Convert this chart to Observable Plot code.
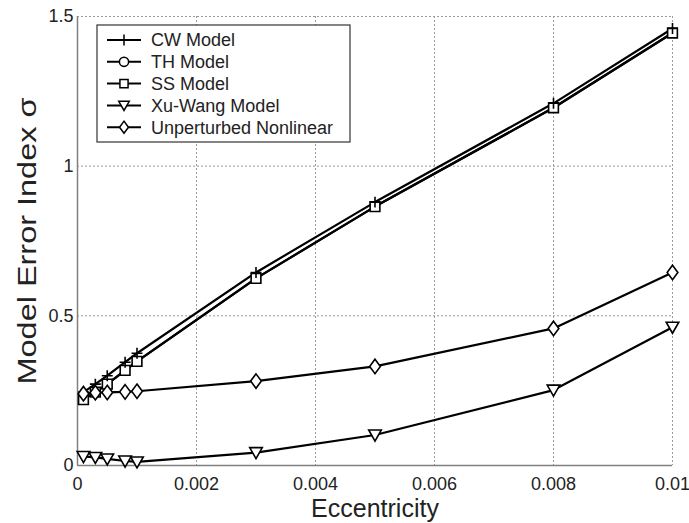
<!DOCTYPE html>
<html>
<head>
<meta charset="utf-8">
<script src="https://cdn.jsdelivr.net/npm/d3@7"></script>
<script src="https://cdn.jsdelivr.net/npm/@observablehq/plot@0.6"></script>
<style>
  html, body { margin: 0; padding: 0; background: white; }
  #chart { width: 689px; height: 523px; }
</style>
</head>
<body>
<div id="chart"></div>
<script>
// ---- data ----
const eccentricity = [0.0001, 0.0003, 0.0005, 0.0008, 0.001, 0.003, 0.005, 0.008, 0.01];
const seriesNames = ["CW Model", "TH Model", "SS Model", "Xu-Wang Model", "Unperturbed Nonlinear"];
const cwValues = [0.245, 0.272, 0.300, 0.345, 0.375, 0.645, 0.880, 1.210, 1.460];
const thValues = [0.220, 0.245, 0.272, 0.318, 0.348, 0.625, 0.865, 1.195, 1.445];
const ssValues = [0.220, 0.245, 0.272, 0.318, 0.348, 0.625, 0.865, 1.195, 1.445];
const xuWangValues = [0.030, 0.027, 0.022, 0.015, 0.012, 0.043, 0.102, 0.252, 0.462];
const unperturbedValues = [0.240, 0.243, 0.244, 0.246, 0.248, 0.282, 0.331, 0.458, 0.645];
const xTicks = [0, 0.002, 0.004, 0.006, 0.008, 0.01];
const yTicks = [0, 0.5, 1, 1.5];

// ---- build table ----
const valueLists = [cwValues, thValues, ssValues, xuWangValues, unperturbedValues];
const rows = [];
seriesNames.forEach((name, i) => {
  eccentricity.forEach((e, j) => rows.push({series: name, x: e, y: valueLists[i][j]}));
});
const bySeries = name => rows.filter(r => r.series === name);

// custom symbols
const triangleDown = {
  draw(context, size) {
    const s = Math.sqrt(size / 0.6);
    const h = s * Math.sqrt(3) / 2;
    context.moveTo(-s / 2, -h / 2.2);
    context.lineTo(s / 2, -h / 2.2);
    context.lineTo(0, h / 1.8);
    context.closePath();
  }
};
const diamondTall = {
  draw(context, size) {
    const r = Math.sqrt(size / 2.4);
    const w = r * 0.85, h = r * 1.15;
    context.moveTo(0, -h);
    context.lineTo(w, 0);
    context.lineTo(0, h);
    context.lineTo(-w, 0);
    context.closePath();
  }
};
const symbolFor = {
  "CW Model": d3.symbolPlus, "TH Model": d3.symbolCircle, "SS Model": d3.symbolSquare,
  "Xu-Wang Model": triangleDown, "Unperturbed Nonlinear": diamondTall
};
const markerR = {"CW Model": 3.6, "TH Model": 4.3, "SS Model": 5.5, "Xu-Wang Model": 5.5, "Unperturbed Nonlinear": 5.5};
const drawOrder = ["TH Model", "SS Model", "CW Model", "Xu-Wang Model", "Unperturbed Nonlinear"];

const fontFamily = "'Liberation Sans', Arial, Helvetica, sans-serif";

const marks = [
  Plot.gridX(xTicks, {stroke: "#9a9a9a", strokeOpacity: 1, strokeDasharray: "2,2"}),
  Plot.gridY(yTicks, {stroke: "#9a9a9a", strokeOpacity: 1, strokeDasharray: "2,2"}),
  Plot.ruleX([0], {stroke: "#808080", strokeWidth: 1.5}),
  Plot.ruleY([0], {stroke: "#808080", strokeWidth: 1.5}),
  Plot.axisX({ticks: xTicks, tickSize: 0, tickPadding: 12, tickFormat: d => String(+d.toFixed(4)), label: null, fontSize: 18}),
  Plot.axisY({ticks: yTicks, tickSize: 0, tickPadding: 4, tickFormat: d => String(d), label: null, fontSize: 18})
];
drawOrder.forEach(name => {
  marks.push(Plot.line(bySeries(name), {x: "x", y: "y", stroke: "black", strokeWidth: 2.2}));
});
drawOrder.forEach(name => {
  marks.push(Plot.dot(bySeries(name), {x: "x", y: "y", symbol: symbolFor[name], r: markerR[name],
    fill: "white", stroke: "black", strokeWidth: 1.6}));
});
marks.push(
  Plot.text(["Eccentricity"], {frameAnchor: "bottom", dy: 43, lineAnchor: "middle", fontSize: 25, fill: "#222"}),
  Plot.text(["Model Error Index σ"], {frameAnchor: "left", textAnchor: "middle", dx: -50, rotate: -90, fontSize: 25, fill: "#222", className: "ylabel"})
);

const chart = Plot.plot({
  width: 689,
  height: 523,
  marginLeft: 77,
  marginRight: 17,
  marginTop: 16,
  marginBottom: 58,
  style: {fontFamily, fontSize: "18px", background: "white", color: "#222"},
  x: {domain: [0, 0.01]},
  y: {domain: [0, 1.5]},
  marks
});

const svg = d3.select(chart);
// the reference figure is stretched vertically: elongate the rotated label
svg.selectAll(".ylabel text").attr("textLength", 287).attr("lengthAdjust", "spacingAndGlyphs");

// ---- legend inside the frame ----
const lg = svg.append("g").attr("font-family", fontFamily).attr("text-anchor", "start");
const box = {x: 97, y: 25, w: 253, h: 117};
lg.append("rect").attr("x", box.x).attr("y", box.y).attr("width", box.w).attr("height", box.h)
  .attr("fill", "white").attr("stroke", "#333").attr("stroke-width", 1.2);
seriesNames.forEach((name, i) => {
  const y = 40 + i * 21.8;
  lg.append("line").attr("x1", 107).attr("x2", 141).attr("y1", y).attr("y2", y)
    .attr("stroke", "black").attr("stroke-width", 2);
  const r = name === "CW Model" ? 3.6 : 4.6;
  lg.append("path").attr("d", d3.symbol(symbolFor[name], Math.PI * r * r)())
    .attr("transform", `translate(124,${y})`)
    .attr("fill", "white").attr("stroke", "black").attr("stroke-width", 1.5);
  lg.append("text").attr("x", 151).attr("y", y).attr("dy", "0.35em")
    .attr("font-size", 18).attr("fill", "#222").attr("text-anchor", "start").text(name);
});

document.getElementById("chart").appendChild(chart);
</script>
</body>
</html>
